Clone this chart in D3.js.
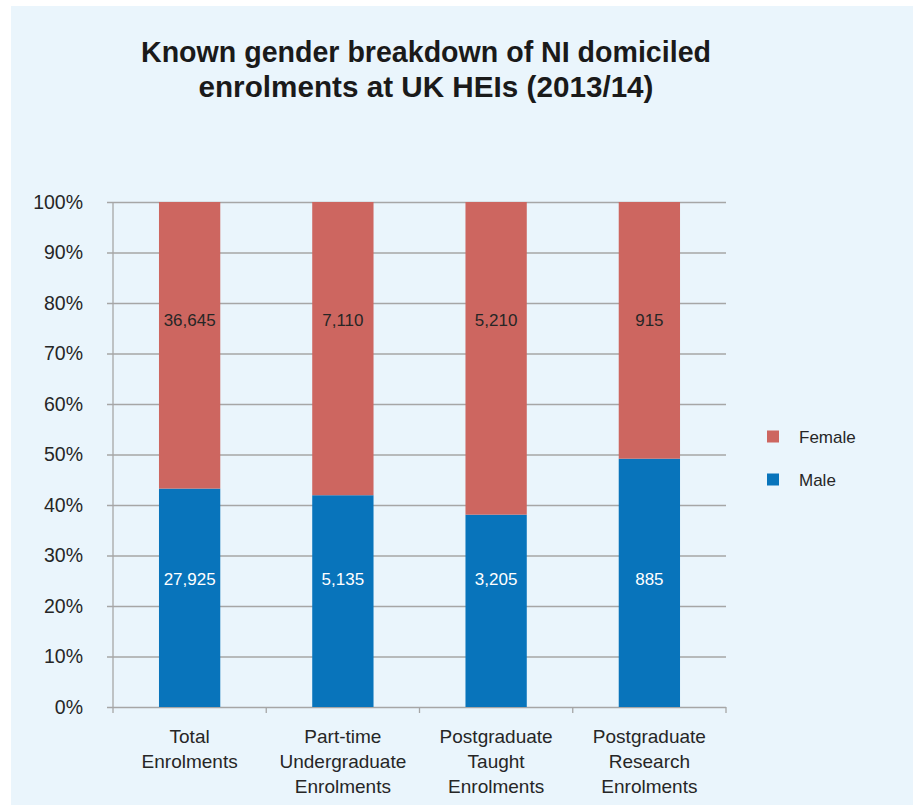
<!DOCTYPE html>
<html>
<head>
<meta charset="utf-8">
<script src="https://cdn.jsdelivr.net/npm/d3@7"></script>
<style>
  html, body { margin: 0; padding: 0; background: #ffffff; }
  svg { display: block; }
  text { font-family: "Liberation Sans", Arial, sans-serif; }
</style>
</head>
<body>
<svg id="chart" width="913" height="805"></svg>
<script>
// Enrolment categories (multi-line labels) and counts by gender
const categories = ["Total Enrolments", "Part-time Undergraduate Enrolments", "Postgraduate Taught Enrolments", "Postgraduate Research Enrolments"];
const categoryLines = [["Total", "Enrolments"], ["Part-time", "Undergraduate", "Enrolments"], ["Postgraduate", "Taught", "Enrolments"], ["Postgraduate", "Research", "Enrolments"]];
const male = [27925, 5135, 3205, 885];
const female = [36645, 7110, 5210, 915];
const yTicks = [0, 0.1, 0.2, 0.3, 0.4, 0.5, 0.6, 0.7, 0.8, 0.9, 1.0];
const seriesNames = ["Male", "Female"];
const titleLines = ["Known gender breakdown of NI domiciled", "enrolments at UK HEIs (2013/14)"];

const colors = { Male: "#0874bb", Female: "#cd6660" };
const gridColor = "#a6a6a6";
const textColor = "#262626";

const svg = d3.select("#chart");

// Light blue panel
svg.append("rect")
  .attr("x", 11).attr("y", 6)
  .attr("width", 902).attr("height", 799)
  .attr("fill", "#eaf5fc");

// Title
const titleWidths = [570, 455];
titleLines.forEach((line, i) => {
  svg.append("text")
    .attr("x", 426)
    .attr("y", 62 + i * 35)
    .attr("text-anchor", "middle")
    .attr("font-size", 29)
    .attr("font-weight", "bold")
    .attr("fill", "#1a1a1a")
    .attr("textLength", titleWidths[i])
    .attr("lengthAdjust", "spacingAndGlyphs")
    .text(line);
});

const plot = { left: 113, right: 726, top: 202, bottom: 707 };

const x = d3.scaleBand()
  .domain(categories)
  .range([plot.left, plot.right])
  .paddingInner(0.6)
  .paddingOuter(0.3);

const y = d3.scaleLinear()
  .domain([0, 1])
  .range([plot.bottom, plot.top]);

// Data table for the stack
const table = categories.map((c, i) => ({ category: c, Male: male[i], Female: female[i] }));
const stacked = d3.stack()
  .keys(seriesNames)
  .offset(d3.stackOffsetExpand)(table);

// Horizontal gridlines with outward ticks and percentage labels
const yAxis = d3.axisLeft(y)
  .tickValues(yTicks)
  .tickSize(plot.right - plot.left + 6)
  .tickPadding(24)
  .tickFormat(d3.format(".0%"));

const gy = svg.append("g")
  .attr("transform", `translate(${plot.right},0)`)
  .call(yAxis);
gy.select(".domain").remove();
gy.selectAll(".tick line")
  .attr("stroke", gridColor)
  .attr("stroke-width", 1.3);
gy.selectAll(".tick text")
  .attr("fill", textColor)
  .attr("font-size", 19.5)
  .attr("font-family", "'Liberation Sans', Arial, sans-serif");

// Vertical axis line
svg.append("line")
  .attr("x1", plot.left).attr("x2", plot.left)
  .attr("y1", plot.top).attr("y2", plot.bottom)
  .attr("stroke", gridColor)
  .attr("stroke-width", 1.3);

// Category boundary ticks below the baseline
const gap = x.step() - x.bandwidth();
const bounds = categories.map(c => x(c) - gap / 2).concat([x(categories[categories.length - 1]) + x.bandwidth() + gap / 2]);
svg.append("g").selectAll("line")
  .data(bounds)
  .join("line")
  .attr("x1", d => d).attr("x2", d => d)
  .attr("y1", plot.bottom).attr("y2", plot.bottom + 6)
  .attr("stroke", gridColor)
  .attr("stroke-width", 1.3);

// Stacked bars
svg.append("g").selectAll("g")
  .data(stacked)
  .join("g")
  .attr("fill", d => colors[d.key])
  .selectAll("rect")
  .data(d => d)
  .join("rect")
  .attr("x", d => x(d.data.category))
  .attr("y", d => y(d[1]))
  .attr("width", x.bandwidth())
  .attr("height", d => y(d[0]) - y(d[1]));

// Value labels (fixed heights within each bar)
const fmt = d3.format(",");
const labelPos = { Male: 0.241, Female: 0.755 };
const labelColor = { Male: "#ffffff", Female: "#262626" };
stacked.forEach(s => {
  svg.append("g").selectAll("text")
    .data(s)
    .join("text")
    .attr("x", d => x(d.data.category) + x.bandwidth() / 2)
    .attr("y", y(labelPos[s.key]))
    .attr("text-anchor", "middle")
    .attr("font-size", 17)
    .attr("fill", labelColor[s.key])
    .text(d => fmt(d.data[s.key]));
});

// Category labels
const catG = svg.append("g");
categories.forEach((c, i) => {
  const t = catG.append("text")
    .attr("x", x(c) + x.bandwidth() / 2)
    .attr("y", 743)
    .attr("text-anchor", "middle")
    .attr("font-size", 19)
    .attr("fill", textColor);
  categoryLines[i].forEach((ln, j) => {
    t.append("tspan")
      .attr("x", x(c) + x.bandwidth() / 2)
      .attr("dy", j === 0 ? 0 : 25)
      .text(ln);
  });
});

// Legend (Female above Male)
const legendItems = ["Female", "Male"];
const lg = svg.append("g");
legendItems.forEach((k, i) => {
  const cy = 436.5 + i * 43;
  lg.append("rect")
    .attr("x", 767).attr("y", cy - 6)
    .attr("width", 12).attr("height", 12)
    .attr("fill", colors[k]);
  lg.append("text")
    .attr("x", 799).attr("y", cy + 6)
    .attr("font-size", 17)
    .attr("fill", textColor)
    .text(k);
});
</script>
</body>
</html>
